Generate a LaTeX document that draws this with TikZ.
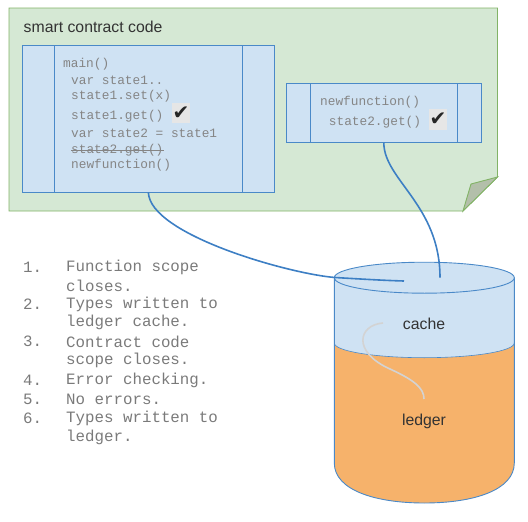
\documentclass[tikz,border=0pt]{standalone}
\usepackage{fontspec}
\setmainfont{Liberation Sans}
\newfontfamily\codefont{Liberation Mono}
\newfontfamily\symfont{DejaVu Sans}
\definecolor{notefill}{HTML}{D5E8D4}
\definecolor{notedraw}{HTML}{82B366}
\definecolor{foldfill}{HTML}{B3BFAA}
\definecolor{boxfill}{HTML}{CFE2F3}
\definecolor{boxdraw}{HTML}{4A89C8}
\definecolor{linkblue}{HTML}{3D7FC4}
\definecolor{ledgerfill}{HTML}{F6B26B}
\definecolor{codegray}{HTML}{858585}
\definecolor{listgray}{HTML}{7A7A7A}
\definecolor{titlegray}{HTML}{333333}
\definecolor{checkbg}{HTML}{E6E6E6}
\definecolor{softgray}{HTML}{D3D3D3}
\tikzset{
  codebox/.style={draw=boxdraw, fill=boxfill, line width=0.9pt, inner sep=0pt},
  cell/.style={draw=boxdraw, line width=0.9pt},
  codeline/.style={anchor=west, inner sep=0pt, text=codegray, font=\codefont\fontsize{12.8}{14}\selectfont},
  listline/.style={anchor=west, inner sep=0pt, text=listgray, font=\codefont\fontsize{15.8}{18}\selectfont},
  checkbox/.style={fill=checkbg, inner sep=0pt, font=\symfont\fontsize{20}{22}\selectfont, text=black!85},
  label/.style={inner sep=0pt, text=titlegray, font=\fontsize{15.8}{18}\selectfont},
  link/.style={draw=linkblue, line width=1.6pt},
}
\begin{document}
\begin{tikzpicture}[x=1pt,y=-1pt]
\useasboundingbox (0,0) rectangle (528,522);
% note
\draw[fill=notefill, draw=notedraw, line width=0.9pt] (9,8) -- (497.5,8) -- (497.5,177) -- (463,211) -- (9,211) -- cycle;
\fill[foldfill] (471,184) -- (497.5,177) -- (463,211) -- cycle;
\draw[draw=notedraw, line width=0.9pt] (471,184) -- (497.5,177) -- (463,211) -- cycle;
\node[label, anchor=west] (title) at (23.5,27) {smart contract code};
% main box
\node[codebox, minimum width=251.3pt, minimum height=146.3pt] (mainbox) at (148.35,118.85) {};
\draw[cell] (54.3,45.7) -- (54.3,192);
\draw[cell] (242,45.7) -- (242,192);
\node[codeline] (c1) at (63,64) {main()};
\node[codeline] (c2) at (71,80.5) {var state1..};
\node[codeline] (c3) at (71,96.5) {state1.set(x)};
\node[codeline] (c4) at (71,116.5) {state1.get()};
\node[checkbox, minimum width=18pt, minimum height=20pt] (chk1) at (181,113) {✔};
\node[codeline] (c5) at (71,133.5) {var state2 = state1};
\node[codeline] (c6) at (71,150.5) {state2.get()};
\draw[codegray, line width=0.8pt] (c6.west) -- (c6.east);
\node[codeline] (c7) at (71,165.5) {newfunction()};
% second box
\node[codebox, minimum width=195pt, minimum height=59pt] (box2) at (383.8,112.8) {};
\draw[cell] (310.3,83.3) -- (310.3,142.3);
\draw[cell] (457.7,83.3) -- (457.7,142.3);
\node[codeline] (d1) at (320,102.5) {newfunction()};
\node[codeline] (d2) at (328.7,122.5) {state2.get()};
\node[checkbox, minimum width=18pt, minimum height=21pt] (chk2) at (438,119.5) {✔};
% list
\node[listline] (n1) at (23,267) {1.};
\node[listline] (t1) at (66,267) {Function scope};
\node[listline] (t1b) at (66,285.5) {closes.};
\node[listline] (n2) at (23,304) {2.};
\node[listline] (t2) at (66,304) {Types written to};
\node[listline] (t2b) at (66,322.5) {ledger cache.};
\node[listline] (n3) at (23,341.5) {3.};
\node[listline] (t3) at (66,341.5) {Contract code};
\node[listline] (t3b) at (66,360.5) {scope closes.};
\node[listline] (n4) at (23,380) {4.};
\node[listline] (t4) at (66,380) {Error checking.};
\node[listline] (n5) at (23,399) {5.};
\node[listline] (t5) at (66,399) {No errors.};
\node[listline] (n6) at (23,418) {6.};
\node[listline] (t6) at (66,418) {Types written to};
\node[listline] (t6b) at (66,437) {ledger.};
% cylinder
\fill[ledgerfill] (334.3,277.7) -- (334.3,463) .. controls (334.3,490) and (375,503) .. (424.3,503) .. controls (474,503) and (514.3,490) .. (514.3,463) -- (514.3,277.7) -- cycle;
\fill[boxfill] (334.3,277.7) -- (334.3,343) .. controls (334.3,351.1) and (374.6,357.7) .. (424.3,357.7) .. controls (474,357.7) and (514.3,351.1) .. (514.3,343) -- (514.3,277.7) -- cycle;
\draw[boxdraw, line width=0.6pt] (334.3,343) .. controls (334.3,351.1) and (374.6,357.7) .. (424.3,357.7) .. controls (474,357.7) and (514.3,351.1) .. (514.3,343);
\draw[boxdraw, line width=0.9pt] (334.3,277.7) -- (334.3,463) .. controls (334.3,490) and (375,503) .. (424.3,503) .. controls (474,503) and (514.3,490) .. (514.3,463) -- (514.3,277.7);
\draw[boxdraw, fill=boxfill, line width=0.9pt] (424.3,277.7) ellipse [x radius=90pt, y radius=15.5pt];
\node[label] (cache) at (424,324) {cache};
\node[label] (ledger) at (424,421.5) {ledger};
\draw[softgray, line width=1.6pt] (383,323) .. controls (358,325) and (352,352) .. (390,369) .. controls (414,380) and (424,388) .. (424,399);
% connectors
\coordinate (end1) at (404,281);
\coordinate (end2) at (440,277.7);
\draw[link] (mainbox.south) .. controls (150,235) and (290,274) .. (335,277.5) .. controls (360,279) and (385,280.5) .. (end1);
\draw[link] (box2.south) .. controls (384,180) and (440,205) .. (end2);
\end{tikzpicture}
\end{document}
